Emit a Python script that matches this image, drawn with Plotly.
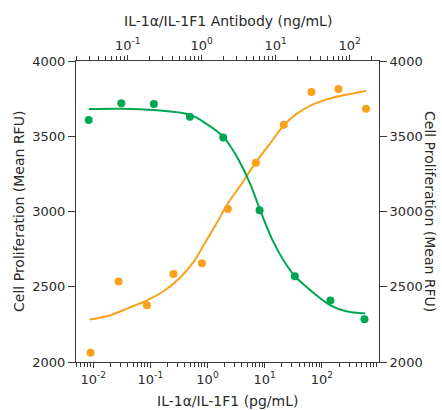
import math
import plotly.graph_objects as go

# ---------------- data ----------------
# IL-1alpha/IL-1F1 (pg/mL) -> bottom axis, orange
il1_conc = [0.0090, 0.0278, 0.0871, 0.254, 0.798, 2.27, 7.02, 21.6, 65.7, 195, 594]
il1_rfu = [2062, 2535, 2377, 2585, 2656, 3016, 3324, 3576, 3794, 3814, 3683]
il1_fit_conc = [0.00865, 0.0199, 0.039, 0.0871, 0.17, 0.33, 0.569, 0.851, 1.46, 2.27,
                3.72, 7.02, 12.5, 21.6, 36.5, 65.7, 122, 209, 594]
il1_fit_rfu = [2282, 2311, 2355, 2410, 2470, 2560, 2665, 2775, 2925, 3054,
               3170, 3326, 3453, 3572, 3650, 3707, 3745, 3767, 3800]

# IL-1alpha/IL-1F1 Antibody (ng/mL) -> top axis, green
ab_conc = [0.0297, 0.082, 0.226, 0.692, 1.96, 6.07, 18.2, 55.0, 159]
ab_rfu = [3608, 3719, 3714, 3629, 3492, 3009, 2570, 2408, 2284]
ab_fit_conc = [0.0297, 0.082, 0.226, 0.692, 1.135, 1.96, 2.51, 3.19, 4.47, 6.07, 8.97,
               13.6, 18.2, 25.3, 38.2, 55.0, 87.5, 163]
ab_fit_rfu = [3681, 3683, 3674, 3643, 3586, 3497, 3425, 3340, 3190, 3020, 2815,
              2654, 2570, 2505, 2432, 2377, 2339, 2322]

bottom_ticks = [0.01, 0.1, 1, 10, 100]
bottom_ticktext = ["10<sup>-2</sup>", "10<sup>-1</sup>", "10<sup>0</sup>", "10<sup>1</sup>", "10<sup>2</sup>"]
top_ticks = [0.1, 1, 10, 100]
top_ticktext = ["10<sup>-1</sup>", "10<sup>0</sup>", "10<sup>1</sup>", "10<sup>2</sup>"]
y_ticks = [2000, 2500, 3000, 3500, 4000]

ORANGE = "#f7a11d"
GREEN = "#00a651"
AXC = "#3a3a3a"
TXT = "#2a2a2a"
FONT = "DejaVu Sans"


def minor_vals(lo_exp, hi_exp):
    return [k * 10 ** e for e in range(lo_exp, hi_exp + 1) for k in range(2, 10)]


fig = go.Figure()
fig.add_trace(go.Scatter(x=il1_fit_conc, y=il1_fit_rfu, mode="lines",
                         line=dict(color=ORANGE, width=2, shape="spline", smoothing=1.0),
                         xaxis="x", yaxis="y", hoverinfo="skip"))
fig.add_trace(go.Scatter(x=il1_conc, y=il1_rfu, mode="markers",
                         marker=dict(color=ORANGE, size=8), xaxis="x", yaxis="y"))
fig.add_trace(go.Scatter(x=ab_fit_conc, y=ab_fit_rfu, mode="lines",
                         line=dict(color=GREEN, width=2, shape="spline", smoothing=1.0),
                         xaxis="x2", yaxis="y2", hoverinfo="skip"))
fig.add_trace(go.Scatter(x=ab_conc, y=ab_rfu, mode="markers",
                         marker=dict(color=GREEN, size=8), xaxis="x2", yaxis="y2"))

common_x = dict(type="log", showgrid=False, zeroline=False, showline=True,
                linecolor=AXC, linewidth=1, ticks="outside", tickcolor=AXC,
                tickwidth=1, tickfont=dict(family=FONT, size=13, color=TXT))
common_y = dict(range=[2000, 4000], showgrid=False, zeroline=False, showline=True,
                linecolor=AXC, linewidth=1, ticks="outside", tickcolor=AXC,
                tickwidth=1, ticklen=7, tickmode="array", tickvals=y_ticks,
                tickfont=dict(family=FONT, size=13, color=TXT))

fig.update_layout(
    width=442, height=410,
    margin=dict(l=76, r=63, t=61, b=48, pad=0),
    paper_bgcolor="white", plot_bgcolor="white",
    showlegend=False,
    xaxis=dict(common_x, range=[math.log10(0.005), 3], side="bottom", anchor="y",
               tickmode="array", tickvals=bottom_ticks, ticktext=bottom_ticktext, ticklen=5,
               minor=dict(ticks="outside", ticklen=4, tickcolor=AXC, tickmode="array",
                          tickvals=minor_vals(-3, 2), showgrid=False)),
    xaxis2=dict(common_x, range=[math.log10(0.02), math.log10(250)], side="top",
                overlaying="x", anchor="y2",
                tickmode="array", tickvals=top_ticks, ticktext=top_ticktext, ticklen=5,
                minor=dict(ticks="outside", ticklen=4, tickcolor=AXC, tickmode="array",
                           tickvals=minor_vals(-2, 2), showgrid=False)),
    yaxis=dict(common_y, side="left", anchor="x"),
    yaxis2=dict(common_y, side="right", overlaying="y", anchor="x2"),
    annotations=[
        dict(text="IL-1\u03b1/IL-1F1 (pg/mL)", xref="paper", yref="paper", x=0.5, y=-0.13,
             xanchor="center", yanchor="middle", showarrow=False,
             font=dict(family=FONT, size=14, color=TXT)),
        dict(text="IL-1\u03b1/IL-1F1 Antibody (ng/mL)", xref="paper", yref="paper", x=0.5, y=1.133,
             xanchor="center", yanchor="middle", showarrow=False,
             font=dict(family=FONT, size=14, color=TXT)),
        dict(text="Cell Proliferation (Mean RFU)", xref="paper", yref="paper", x=-0.19, y=0.5,
             xanchor="center", yanchor="middle", textangle=-90, showarrow=False,
             font=dict(family=FONT, size=14, color=TXT)),
        dict(text="Cell Proliferation (Mean RFU)", xref="paper", yref="paper", x=1.17, y=0.5,
             xanchor="center", yanchor="middle", textangle=90, showarrow=False,
             font=dict(family=FONT, size=14, color=TXT)),
    ],
)

fig.write_html("out.html")
